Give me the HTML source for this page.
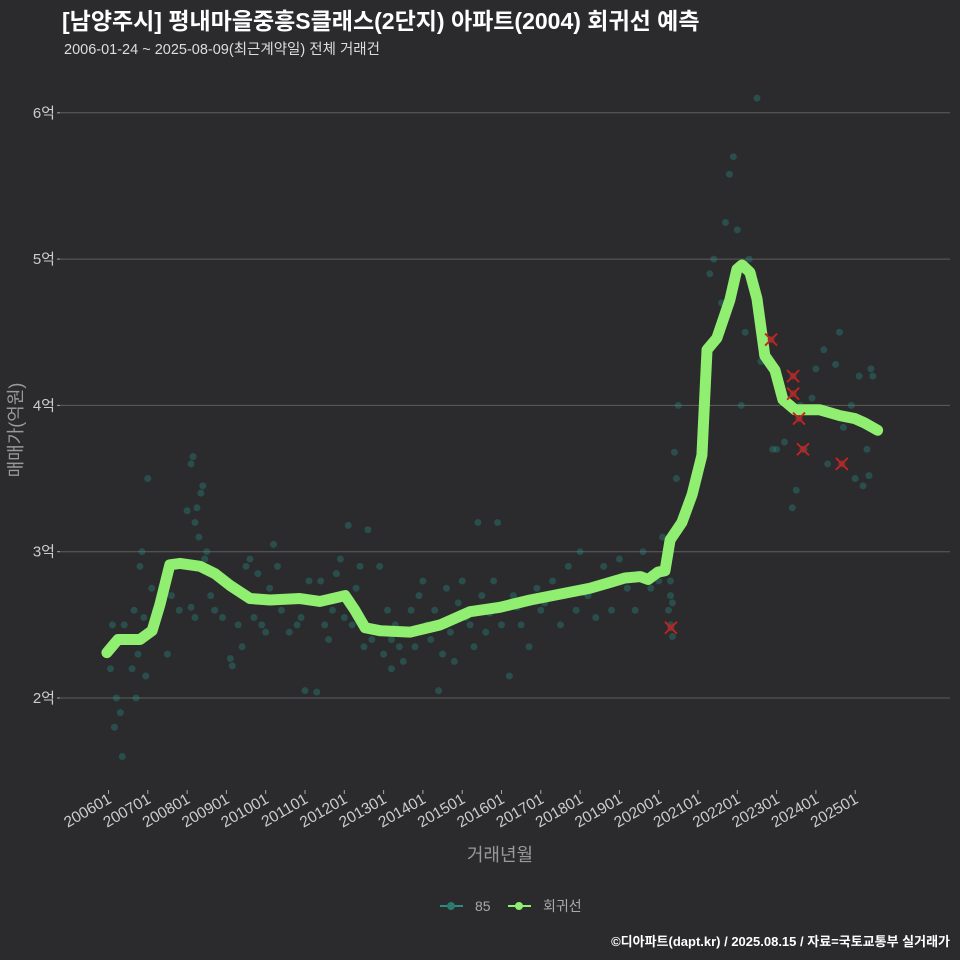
<!DOCTYPE html>
<html><head><meta charset="utf-8"><style>
body{margin:0;background:#2b2a2d;}
svg{display:block;font-family:"Liberation Sans","Noto Sans CJK KR",sans-serif;}
</style></head><body>
<svg id="c" width="960" height="960">
<rect width="960" height="960" fill="#2b2a2d"/>
<text x="62" y="29" fill="#fff" font-size="23" font-weight="bold">[남양주시] 평내마을중흥S클래스(2단지) 아파트(2004) 회귀선 예측</text>
<text x="64" y="54" fill="#ddd" font-size="14.5">2006-01-24 ~ 2025-08-09(최근계약일) 전체 거래건</text>
<g id="grid"></g><g id="pts"></g><g id="line"></g><g id="xs"></g><g id="axes"></g>
<text x="500" y="861" fill="#999" font-size="18" text-anchor="middle">거래년월</text>
<text transform="translate(22,430) rotate(-90)" fill="#999" font-size="18" text-anchor="middle">매매가(억원)</text>
<g><line x1="440" y1="906" x2="463" y2="906" stroke="#2a8a85" stroke-width="2"/><circle cx="451" cy="906" r="4" fill="#2a7a70"/><text x="475" y="911" fill="#aaa" font-size="14">85</text></g>
<g><line x1="508" y1="906" x2="531" y2="906" stroke="#90ee70" stroke-width="2"/><circle cx="519" cy="906" r="4" fill="#90ee70"/><text x="543" y="911" fill="#aaa" font-size="14">회귀선</text></g>
<text x="950" y="946" fill="#fff" font-size="13" font-weight="bold" text-anchor="end">©디아파트(dapt.kr) / 2025.08.15 / 자료=국토교통부 실거래가</text>
</svg>
<script>
const yTicks=[2,3,4,5,6];
const xTickYears=[2006,2007,2008,2009,2010,2011,2012,2013,2014,2015,2016,2017,2018,2019,2020,2021,2022,2023,2024,2025];
const lineYears=[2005.96,2006.24,2006.8,2007.11,2007.31,2007.56,2007.82,2008.33,2008.71,2009.09,2009.6,2010.11,2010.87,2011.38,2012.02,2012.27,2012.53,2012.91,2013.67,2014.44,2015.2,2015.96,2016.73,2017.49,2018.25,2018.76,2019.14,2019.53,2019.73,2019.98,2020.16,2020.29,2020.59,2020.85,2021.1,2021.23,2021.48,2021.81,2021.99,2022.12,2022.32,2022.5,2022.7,2022.96,2023.16,2023.47,2024.1,2024.61,2024.99,2025.24,2025.57];
const lineValues=[2.31,2.4,2.4,2.46,2.64,2.91,2.92,2.9,2.85,2.77,2.68,2.67,2.68,2.66,2.7,2.6,2.48,2.46,2.45,2.5,2.59,2.62,2.67,2.71,2.75,2.79,2.82,2.83,2.81,2.86,2.87,3.08,3.2,3.39,3.66,4.38,4.46,4.72,4.93,4.96,4.91,4.73,4.34,4.24,4.04,3.97,3.97,3.93,3.91,3.88,3.83];
const tradeYears=[2006.05,2006.1,2006.15,2006.2,2006.3,2006.35,2006.4,2006.5,2006.6,2006.65,2006.7,2006.75,2006.8,2006.85,2006.9,2006.95,2007.0,2007.1,2007.2,2007.5,2007.6,2007.8,2007.9,2008.0,2008.1,2008.15,2008.2,2008.25,2008.3,2008.35,2008.4,2008.45,2008.5,2008.2,2008.1,2008.6,2008.7,2008.9,2009.1,2009.15,2009.3,2009.4,2009.5,2009.6,2009.7,2009.8,2009.9,2010.0,2010.1,2010.2,2010.3,2010.4,2010.6,2010.8,2010.9,2011.0,2011.1,2011.3,2011.4,2011.5,2011.6,2011.7,2011.8,2011.9,2012.0,2012.1,2012.2,2012.3,2012.4,2012.5,2012.6,2012.7,2012.9,2013.0,2013.1,2013.2,2013.3,2013.4,2013.5,2013.6,2013.7,2013.8,2013.9,2014.0,2014.1,2014.2,2014.3,2014.4,2014.5,2014.6,2014.7,2014.8,2014.9,2015.0,2015.2,2015.3,2015.4,2015.5,2015.6,2015.8,2015.9,2016.0,2016.2,2016.3,2016.5,2016.7,2016.9,2017.0,2017.3,2017.5,2017.7,2017.9,2018.0,2018.2,2018.4,2018.6,2018.8,2019.0,2019.2,2019.4,2019.6,2019.8,2020.0,2020.1,2020.2,2020.25,2020.3,2020.35,2020.4,2020.45,2020.5,2020.6,2020.8,2021.0,2021.2,2021.3,2021.4,2021.5,2021.6,2021.7,2021.8,2021.85,2021.9,2022.0,2022.1,2022.2,2022.3,2022.4,2022.5,2022.6,2022.9,2023.0,2023.2,2023.4,2023.5,2023.6,2023.7,2023.9,2024.0,2024.2,2024.3,2024.5,2024.6,2024.7,2024.9,2025.0,2025.1,2025.2,2025.3,2025.4,2025.45,2025.35,2013.2,2013.5,2014.2,2014.6,2015.1,2015.7,2016.4,2017.1,2017.6,2018.1,2018.7,2019.5,2020.05,2020.3,2020.3,2020.35];
const tradeValues=[2.2,2.5,1.8,2.0,1.9,1.6,2.5,2.4,2.2,2.6,2.0,2.3,2.9,3.0,2.55,2.15,3.5,2.75,2.6,2.3,2.7,2.6,2.9,3.28,3.6,3.65,3.2,3.3,3.1,3.4,3.45,2.95,3.0,2.55,2.62,2.7,2.6,2.55,2.27,2.22,2.5,2.35,2.9,2.95,2.55,2.85,2.5,2.45,2.75,3.05,2.9,2.6,2.45,2.5,2.55,2.05,2.8,2.04,2.8,2.5,2.4,2.6,2.85,2.95,2.55,3.18,2.5,2.75,2.9,2.35,3.15,2.4,2.9,2.3,2.6,2.2,2.5,2.35,2.25,2.45,2.6,2.35,2.7,2.8,2.5,2.4,2.6,2.05,2.3,2.75,2.45,2.25,2.65,2.8,2.5,2.35,3.2,2.7,2.45,2.8,3.2,2.5,2.15,2.7,2.5,2.35,2.75,2.6,2.8,2.5,2.9,2.6,3.0,2.7,2.55,2.9,2.6,2.95,2.75,2.6,3.0,2.75,2.8,3.1,2.95,2.6,2.5,2.42,3.68,3.5,4.0,3.2,3.4,3.5,4.3,4.9,5.0,4.45,4.7,5.25,5.58,4.8,5.7,5.2,4.0,4.5,5.0,4.9,6.1,4.3,3.7,3.7,3.75,3.3,3.42,4.0,3.7,4.05,4.25,4.38,3.6,4.28,4.5,3.85,4.0,3.5,4.2,3.45,3.7,4.25,4.2,3.52,2.4,2.45,2.48,2.5,2.55,2.58,2.62,2.65,2.7,2.72,2.78,2.82,2.85,2.7,2.8,2.65];
const cancelYears=[2022.86,2023.42,2023.42,2023.57,2023.67,2024.66,2020.31];
const cancelValues=[4.45,4.2,4.08,3.91,3.7,3.6,2.48];
const NS='http://www.w3.org/2000/svg';
const X=y=>108.5+(y-2006)*39.3;
const Y=v=>698-(v-2)*146.3;
function mk(p,t,a){const e=document.createElementNS(NS,t);for(const k in a)e.setAttribute(k,a[k]);document.getElementById(p).appendChild(e);return e;}
yTicks.forEach(v=>{
 const l=mk('grid','line',{x1:60,x2:950,y1:Y(v),y2:Y(v),stroke:'#5e5e5e','stroke-width':1});
 
 
 const t=mk('axes','line',{x1:57,x2:60,y1:Y(v),y2:Y(v),stroke:'#aaa'});
 
 
 const tx=mk('axes','text',{x:55,y:Y(v)+5,fill:'#ccc','font-size':15,'text-anchor':'end'});tx.textContent=v+'억';
 
 
});
xTickYears.forEach(y=>{
 const t=mk('axes','line',{x1:X(y),x2:X(y),y1:790,y2:794,stroke:'#aaa'});
 
 
 const tx=mk('axes','text',{transform:`translate(${X(y)+4},802) rotate(-30)`,fill:'#ccc','font-size':15.5,'text-anchor':'end'});tx.textContent=y+'01';
 
 
});
tradeYears.forEach((y,i)=>{
 const c=mk('pts','circle',{cx:X(y),cy:Y(tradeValues[i]),r:3.5,fill:'#2a8a80','fill-opacity':0.38});
 
 
});
const pl=mk('line','polyline',{points:lineYears.map((y,i)=>X(y)+','+Y(lineValues[i])).join(' '),fill:'none',stroke:'#90ee70','stroke-width':11,'stroke-linecap':'round','stroke-linejoin':'round'});


cancelYears.forEach((y,i)=>{
 const cx=X(y),cy=Y(cancelValues[i]);
 const g=mk('xs','path',{d:`M${cx-6},${cy-6}L${cx+6},${cy+6}M${cx+6},${cy-6}L${cx-6},${cy+6}`,stroke:'#d02020','stroke-width':1.8});
 
 
 const c=mk('xs','circle',{cx:cx,cy:cy,r:3.5,fill:'#a03030','fill-opacity':0.7});
 
 
});
</script>
</body></html>
